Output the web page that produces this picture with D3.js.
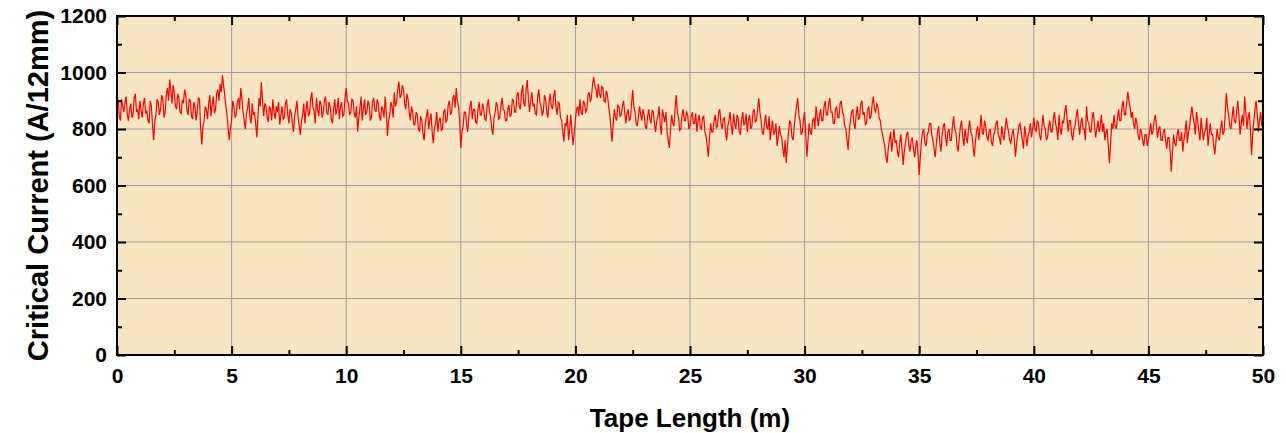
<!DOCTYPE html>
<html>
<head>
<meta charset="utf-8">
<script src="https://cdn.jsdelivr.net/npm/d3@7"></script>
<style>
  body { margin: 0; background: #fff; }
  text { font-family: "Liberation Sans", Arial, sans-serif; font-weight: bold; }
</style>
</head>
<body>
<div id="chart"></div>
<script>
// sample spacing along the tape (m)
var lengthStep = 0.05;

// critical current, one value every 0.05 m (two lines per metre)
var currentValues = [
  880, 905, 845, 830, 905, 880, 860, 895, 915, 850,   // 0 m
  830, 870, 890, 840, 850, 910, 925, 860, 870, 835,
  900, 865, 840, 890, 910, 855, 865, 830, 820, 900,
  880, 815, 760, 830, 850, 905, 895, 850, 870, 920,
  905, 840, 860, 920, 945, 900, 975, 935, 890, 955,
  930, 880, 870, 925, 910, 860, 855, 900, 895, 940,
  920, 870, 850, 905, 900, 845, 835, 895, 880, 830,
  860, 910, 905, 800, 745, 810, 830, 880, 870, 835,
  890, 920, 845, 885, 915, 855, 870, 925, 940, 900,
  960, 930, 990, 955, 920, 880, 850, 800, 760, 805,
  830, 900, 880, 840, 850, 895, 910, 870, 945, 905,   // 5 m
  860, 830, 800, 855, 875, 910, 840, 820, 890, 850,
  860, 820, 770, 845, 910, 880, 965, 900, 845, 890,
  880, 840, 825, 880, 870, 830, 905, 860, 835, 880,
  860, 895, 815, 850, 880, 835, 840, 890, 905, 850,
  820, 870, 860, 820, 790, 845, 870, 900, 845, 810,
  780, 830, 850, 890, 820, 870, 900, 845, 855, 905,
  930, 875, 865, 820, 910, 870, 845, 900, 890, 840,
  860, 900, 915, 860, 850, 895, 880, 835, 820, 870,
  905, 850, 870, 910, 835, 880, 895, 845, 850, 910,
  945, 900, 890, 850, 860, 905, 900, 855, 840, 880,   // 10 m
  790, 840, 875, 915, 830, 870, 905, 850, 860, 900,
  885, 830, 840, 895, 910, 870, 860, 905, 890, 845,
  830, 880, 870, 840, 915, 860, 775, 830, 850, 895,
  880, 840, 930, 880, 895, 940, 968, 910, 920, 955,
  940, 890, 870, 925, 905, 860, 830, 880, 860, 815,
  815, 860, 850, 800, 790, 845, 830, 785, 760, 820,
  845, 870, 800, 835, 855, 790, 750, 800, 820, 860,
  790, 830, 840, 795, 800, 860, 870, 825, 830, 885,
  900, 850, 860, 910, 920, 875, 945, 900, 880, 830,
  733, 790, 810, 860, 860, 820, 790, 845, 880, 900,   // 15 m
  835, 870, 870, 825, 820, 870, 895, 850, 850, 890,
  870, 835, 830, 880, 905, 860, 845, 800, 780, 840,
  860, 895, 880, 835, 840, 880, 910, 870, 865, 830,
  830, 870, 885, 845, 850, 905, 900, 860, 860, 920,
  930, 880, 870, 930, 955, 890, 880, 940, 973, 905,
  860, 900, 930, 880, 890, 855, 850, 910, 940, 895,
  880, 850, 860, 920, 905, 860, 840, 895, 925, 880,
  870, 915, 938, 880, 850, 895, 890, 840, 830, 790,
  755, 820, 810, 850, 760, 800, 850, 790, 743, 790,
  830, 870, 880, 845, 905, 860, 850, 900, 890, 860,   // 20 m
  870, 920, 930, 895, 910, 960, 985, 950, 940, 910,
  960, 925, 910, 950, 945, 900, 895, 935, 920, 880,
  850, 800, 755, 820, 870, 840, 830, 885, 880, 845,
  850, 880, 900, 860, 820, 855, 870, 830, 835, 890,
  938, 880, 860, 820, 810, 845, 880, 850, 830, 870,
  850, 810, 800, 845, 870, 835, 820, 865, 860, 820,
  790, 830, 845, 880, 815, 780, 870, 845, 825, 860,
  790, 760, 733, 800, 850, 820, 810, 870, 920, 860,
  840, 795, 800, 850, 870, 830, 830, 860, 850, 800,
  810, 845, 860, 820, 820, 855, 790, 830, 850, 805,   // 25 m
  800, 840, 845, 790, 775, 740, 702, 770, 820, 790,
  790, 830, 850, 805, 810, 860, 870, 820, 800, 835,
  840, 790, 760, 810, 830, 860, 810, 780, 855, 820,
  800, 850, 840, 790, 780, 830, 860, 815, 820, 855,
  790, 830, 850, 800, 810, 860, 870, 825, 830, 870,
  909, 860, 830, 790, 780, 820, 850, 805, 800, 845,
  760, 800, 830, 780, 790, 820, 740, 770, 810, 780,
  770, 730, 700, 760, 680, 740, 790, 830, 820, 770,
  760, 810, 850, 880, 909, 850, 830, 780, 790, 830,
  860, 780, 702, 760, 820, 790, 780, 830, 840, 800,   // 30 m
  880, 845, 810, 850, 870, 830, 830, 880, 900, 850,
  850, 890, 910, 860, 860, 820, 820, 870, 880, 840,
  840, 890, 900, 860, 850, 810, 800, 760, 726, 790,
  830, 860, 870, 820, 800, 850, 880, 835, 840, 890,
  900, 850, 860, 815, 820, 870, 880, 835, 845, 890,
  915, 870, 860, 890, 880, 840, 830, 800, 780, 760,
  740, 700, 680, 730, 760, 790, 720, 760, 800, 750,
  760, 720, 700, 750, 780, 730, 673, 720, 750, 780,
  790, 740, 720, 760, 770, 730, 700, 740, 760, 710,
  637, 700, 760, 790, 800, 750, 740, 780, 790, 820,   // 35 m
  820, 780, 760, 730, 700, 750, 790, 810, 750, 720,
  780, 810, 820, 770, 740, 790, 800, 760, 760, 810,
  845, 800, 790, 740, 720, 770, 810, 830, 770, 740,
  800, 770, 750, 800, 830, 790, 780, 740, 702, 750,
  790, 810, 760, 800, 850, 790, 780, 830, 810, 770,
  760, 790, 800, 755, 740, 780, 790, 820, 830, 780,
  770, 745, 810, 780, 760, 800, 840, 810, 790, 760,
  750, 780, 800, 760, 702, 750, 780, 810, 820, 790,
  760, 730, 810, 780, 740, 775, 790, 820, 770, 800,
  840, 800, 790, 830, 820, 780, 760, 800, 850, 810,   // 40 m
  800, 760, 770, 810, 830, 790, 790, 835, 860, 820,
  800, 760, 850, 800, 780, 830, 820, 860, 885, 840,
  790, 830, 830, 780, 760, 800, 810, 845, 870, 820,
  780, 820, 840, 800, 800, 760, 880, 830, 820, 790,
  790, 840, 860, 810, 770, 800, 830, 790, 810, 850,
  790, 820, 760, 790, 800, 740, 679, 750, 820, 800,
  850, 810, 800, 840, 870, 830, 830, 880, 900, 850,
  850, 890, 932, 900, 880, 840, 860, 820, 800, 840,
  820, 780, 760, 800, 790, 760, 740, 780, 780, 740,
  760, 790, 820, 780, 790, 830, 850, 810, 770, 800,   // 45 m
  810, 760, 760, 790, 800, 760, 730, 770, 770, 720,
  649, 720, 780, 750, 740, 780, 800, 760, 760, 790,
  720, 760, 790, 830, 750, 790, 810, 850, 879, 840,
  820, 780, 860, 830, 790, 760, 840, 800, 760, 790,
  800, 840, 740, 780, 820, 780, 780, 740, 710, 760,
  800, 770, 760, 800, 830, 780, 790, 850, 926, 880,
  850, 810, 800, 840, 880, 830, 820, 860, 900, 850,
  780, 820, 850, 810, 915, 860, 800, 840, 860, 800,
  708, 780, 830, 870, 900, 850, 790, 830, 860, 810,
  830                                                 // 50 m
];

var xTicks = [0, 5, 10, 15, 20, 25, 30, 35, 40, 45, 50];
var xMinorTicks = [2.5, 7.5, 12.5, 17.5, 22.5, 27.5, 32.5, 37.5, 42.5, 47.5];
var yTicks = [0, 200, 400, 600, 800, 1000, 1200];
var yMinorTicks = [100, 300, 500, 700, 900, 1100];

var width = 1286, height = 433;
var margin = { top: 16, right: 23, bottom: 78, left: 117 };
var innerW = width - margin.left - margin.right;
var innerH = height - margin.top - margin.bottom;

var svg = d3.select("#chart")
  .append("svg")
  .attr("width", width)
  .attr("height", height);

var g = svg.append("g")
  .attr("transform", "translate(" + margin.left + "," + margin.top + ")");

var x = d3.scaleLinear().domain([0, 50]).range([0, innerW]);
var y = d3.scaleLinear().domain([0, 1200]).range([innerH, 0]);

// plot background
g.append("rect")
  .attr("width", innerW)
  .attr("height", innerH)
  .attr("fill", "#F8E6C3");

// grid lines
g.append("g")
  .selectAll("line")
  .data(xTicks.slice(1, -1))
  .enter()
  .append("line")
    .attr("x1", d => x(d)).attr("x2", d => x(d))
    .attr("y1", 0).attr("y2", innerH)
    .attr("stroke", "#9e9e9e")
    .attr("stroke-width", 1);

g.append("g")
  .selectAll("line")
  .data(yTicks.slice(1, -1))
  .enter()
  .append("line")
    .attr("x1", 0).attr("x2", innerW)
    .attr("y1", d => y(d)).attr("y2", d => y(d))
    .attr("stroke", "#9e9e9e")
    .attr("stroke-width", 1);

// data trace
var line = d3.line()
  .x((d, i) => x(i * lengthStep))
  .y(d => y(d));

g.append("path")
  .datum(currentValues)
  .attr("d", line)
  .attr("fill", "none")
  .attr("stroke", "#FF0000")
  .attr("stroke-width", 1.2)
  .attr("stroke-linejoin", "miter");

// axes, ticks pointing inward on all four sides
function styleAxis(sel) {
  sel.select(".domain").remove();
  sel.selectAll("line").attr("stroke", "#000").attr("stroke-width", 2);
  sel.selectAll("text")
    .attr("fill", "#000")
    .style("font-size", "21px")
    .style("font-family", "'Liberation Sans', Arial, sans-serif")
    .style("font-weight", "bold");
}

var fmt = d3.format("d");

g.append("g")
  .attr("transform", "translate(0," + innerH + ")")
  .call(d3.axisBottom(x).tickValues(xTicks).tickFormat(fmt).tickSizeInner(-9).tickSizeOuter(0).tickPadding(13))
  .call(styleAxis);
g.append("g")
  .attr("transform", "translate(0," + innerH + ")")
  .call(d3.axisBottom(x).tickValues(xMinorTicks).tickSizeInner(-5).tickSizeOuter(0).tickFormat(""))
  .call(styleAxis);
g.append("g")
  .call(d3.axisTop(x).tickValues(xTicks).tickSizeInner(-9).tickSizeOuter(0).tickFormat(""))
  .call(styleAxis);
g.append("g")
  .call(d3.axisTop(x).tickValues(xMinorTicks).tickSizeInner(-5).tickSizeOuter(0).tickFormat(""))
  .call(styleAxis);

g.append("g")
  .call(d3.axisLeft(y).tickValues(yTicks).tickFormat(fmt).tickSizeInner(-9).tickSizeOuter(0).tickPadding(10))
  .call(styleAxis);
g.append("g")
  .call(d3.axisLeft(y).tickValues(yMinorTicks).tickSizeInner(-5).tickSizeOuter(0).tickFormat(""))
  .call(styleAxis);
g.append("g")
  .attr("transform", "translate(" + innerW + ",0)")
  .call(d3.axisRight(y).tickValues(yTicks).tickSizeInner(-9).tickSizeOuter(0).tickFormat(""))
  .call(styleAxis);
g.append("g")
  .attr("transform", "translate(" + innerW + ",0)")
  .call(d3.axisRight(y).tickValues(yMinorTicks).tickSizeInner(-5).tickSizeOuter(0).tickFormat(""))
  .call(styleAxis);

// frame
g.append("rect")
  .attr("width", innerW)
  .attr("height", innerH)
  .attr("fill", "none")
  .attr("stroke", "#000")
  .attr("stroke-width", 2);

// axis titles
svg.append("text")
  .attr("x", margin.left + innerW / 2)
  .attr("y", 427)
  .attr("text-anchor", "middle")
  .style("font-size", "26px")
  .text("Tape Length (m)");

svg.append("text")
  .attr("transform", "translate(48," + (margin.top + innerH / 2) + ") rotate(-90)")
  .attr("text-anchor", "middle")
  .style("font-size", "29px")
  .text("Critical Current (A/12mm)");
</script>
</body>
</html>
